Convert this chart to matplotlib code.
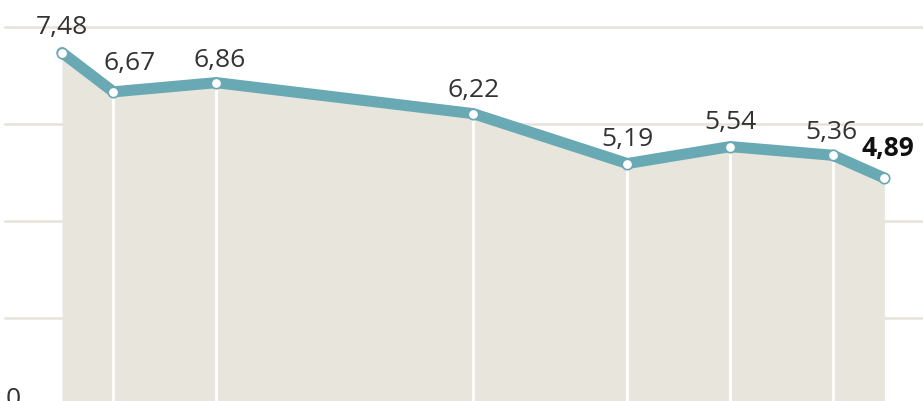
import matplotlib
matplotlib.use('Agg')
import matplotlib.pyplot as plt

# x positions (irregular periods) and values
periods = [0, 1, 3, 8, 11, 13, 15, 16]
values = [7.48, 6.67, 6.86, 6.22, 5.19, 5.54, 5.36, 4.89]
labels = ['7,48', '6,67', '6,86', '6,22', '5,19', '5,54', '5,36', '4,89']
grid_values = [2, 4, 6, 8]

# label placement tweaks (pixels)
label_dx = [0, 16, 3, 0, 0, 0, -2, 3]
label_dy = [19, 22, 16, 17, 18, 18, 16, 22]

line_color = '#69a9b3'
fill_color = '#e8e5dd'
grid_color = '#e6e3da'
text_color = '#333333'

plt.rcParams['font.family'] = ['Open Sans', 'DejaVu Sans']

fig = plt.figure(figsize=(9.23, 4.01), dpi=100)
ax = fig.add_axes([0, 0, 1, 1])

px_x = 51.4
px_y = 48.45
x0_px = 62
y0_px = 415
ax.set_xlim(-x0_px / px_x, (923 - x0_px) / px_x)
ax.set_ylim((y0_px - 401) / px_y, y0_px / px_y)
ax.axis('off')

# gridlines
for g in grid_values:
    ax.axhline(g, xmin=5 / 923, xmax=1, color=grid_color, lw=1.8, zorder=1)

ax.fill_between(periods, values, 0, color=fill_color, lw=0, zorder=2)

for x, v in zip(periods[1:-1], values[1:-1]):
    ax.plot([x, x], [0, v], color='white', lw=2, zorder=3)

ax.plot(periods, values, color=line_color, lw=8, solid_joinstyle='round',
        solid_capstyle='round', zorder=4)
ax.plot(periods, values, 'o', ms=7.5, mfc='white', mec=line_color, mew=1.2, zorder=5)

for i, (x, v, lab) in enumerate(zip(periods, values, labels)):
    bold = i == len(values) - 1
    ax.annotate(lab, (x, v), xytext=(label_dx[i] * 0.72, label_dy[i] * 0.72),
                textcoords='offset points', ha='center', va='baseline',
                fontsize=19, color='#111111' if bold else text_color,
                fontweight='bold' if bold else 'normal', zorder=6)

ax.annotate('0', (-x0_px / px_x, 0), xytext=(13 * 0.72, 9 * 0.72),
            textcoords='offset points', ha='center', va='baseline',
            fontsize=19, color=text_color, annotation_clip=False)

fig.savefig('out.png', dpi=100)
